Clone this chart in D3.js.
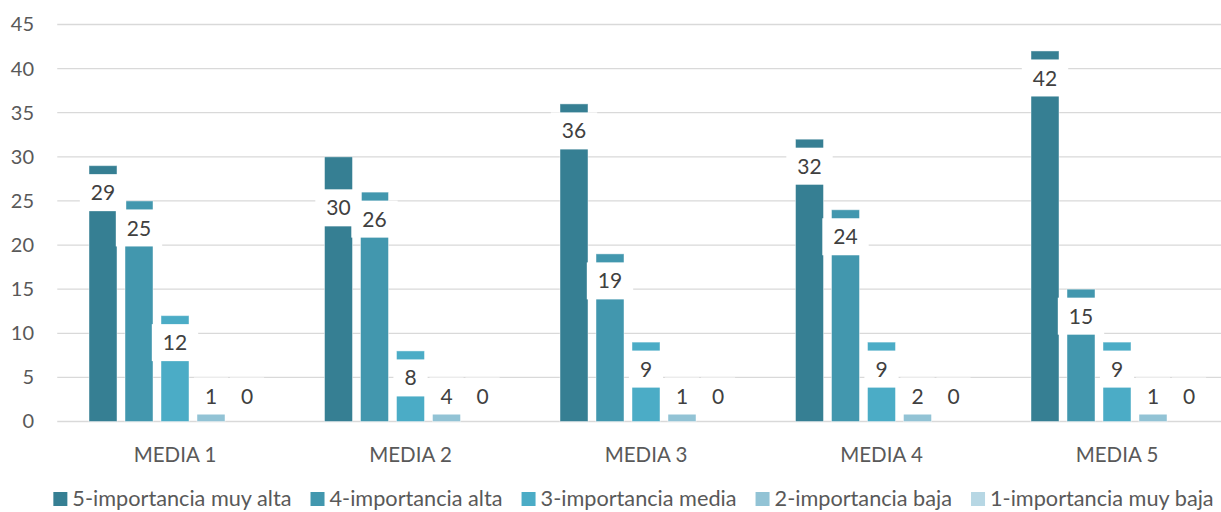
<!DOCTYPE html>
<html>
<head>
<meta charset="utf-8">
<script src="https://cdn.jsdelivr.net/npm/d3@7"></script>
<style>
  html, body { margin: 0; padding: 0; background: #ffffff; }
  svg { display: block; font-family: Lato, "Open Sans", sans-serif; }
</style>
</head>
<body>
<svg id="chart" width="1221" height="512"></svg>
<script>
// Survey results: number of answers per importance level for each measure
const categories = ["MEDIA 1", "MEDIA 2", "MEDIA 3", "MEDIA 4", "MEDIA 5"];
const seriesNames = [
  "5-importancia muy alta",
  "4-importancia alta",
  "3-importancia media",
  "2-importancia baja",
  "1-importancia muy baja"
];
const muyAlta = [29, 30, 36, 32, 42];
const alta    = [25, 26, 19, 24, 15];
const media   = [12, 8, 9, 9, 9];
const baja    = [1, 4, 1, 2, 1];
const muyBaja = [0, 0, 0, 0, 0];
const yTicks  = [0, 5, 10, 15, 20, 25, 30, 35, 40, 45];

const seriesValues = [muyAlta, alta, media, baja, muyBaja];
const colors = ["#367f93", "#4297ae", "#4bacc6", "#92c3d5", "#b7d7e4"];

const svg = d3.select("#chart");
const plot = { left: 57.25, right: 1234.75, top: 24.5, bottom: 421.5 };

const x0 = d3.scaleBand()
  .domain(categories)
  .range([plot.left, plot.right])
  .paddingInner(0.2357)
  .paddingOuter(0.11785);

const x1 = d3.scaleBand()
  .domain(seriesNames)
  .range([0, x0.bandwidth()])
  .paddingInner(0.2222)
  .paddingOuter(0.1111);

const y = d3.scaleLinear().domain([0, 45]).range([plot.bottom, plot.top]);

// Horizontal gridlines
svg.append("g")
  .selectAll("line")
  .data(yTicks)
  .join("line")
  .attr("x1", plot.left)
  .attr("x2", plot.right)
  .attr("y1", d => y(d))
  .attr("y2", d => y(d))
  .attr("stroke", "#d9d9d9")
  .attr("stroke-width", 1.3);

// Value axis labels
const yAxis = d3.axisLeft(y).tickValues(yTicks).tickSize(0).tickPadding(0);
svg.append("g")
  .attr("transform", "translate(34,0)")
  .call(yAxis)
  .call(g => g.select(".domain").remove())
  .call(g => g.selectAll("text")
    .attr("fill", "#595959")
    .attr("font-size", "20px")
    .attr("font-family", "Lato, sans-serif"));

// Category labels
const xAxis = d3.axisBottom(x0).tickSize(0).tickPadding(0);
svg.append("g")
  .attr("transform", "translate(0,447)")
  .call(xAxis)
  .call(g => g.select(".domain").remove())
  .call(g => g.selectAll("text")
    .attr("fill", "#595959")
    .attr("font-size", "20.5px")
    .attr("font-family", "Lato, sans-serif"));

// Flatten into one record per bar
const records = [];
categories.forEach((c, ci) => {
  seriesNames.forEach((s, si) => {
    records.push({ cat: c, series: s, si, value: seriesValues[si][ci] });
  });
});

// Bars
svg.append("g")
  .selectAll("rect")
  .data(records)
  .join("rect")
  .attr("x", d => x0(d.cat) + x1(d.series))
  .attr("y", d => y(d.value))
  .attr("width", x1.bandwidth())
  .attr("height", d => y(0) - y(d.value))
  .attr("fill", d => colors[d.si])
  .attr("stroke", "rgba(255,255,255,0.45)")
  .attr("stroke-width", 1);

// Data labels with white boxes, set just inside the top of each bar.
// One label was dragged lower by hand to keep clear of its neighbour.
const labelH = 37;
const labelDrag = { "MEDIA 2|5-importancia muy alta": 24 };
const labels = svg.append("g")
  .selectAll("g")
  .data(records)
  .join("g")
  .attr("transform", d => {
    const cx = x0(d.cat) + x1(d.series) + x1.bandwidth() / 2;
    const drag = labelDrag[d.cat + "|" + d.series] || 0;
    const cy = Math.min(y(d.value) + 27, y(0) - 25.5) + drag;
    return `translate(${cx},${cy})`;
  });

labels.append("rect").attr("fill", "#ffffff");
labels.append("text")
  .attr("text-anchor", "middle")
  .attr("dy", "0.36em")
  .attr("fill", "#404040")
  .attr("font-size", "21px")
  .text(d => d.value);

labels.each(function() {
  const g = d3.select(this);
  const w = g.select("text").node().getComputedTextLength() + 22;
  g.select("rect")
    .attr("x", -w / 2)
    .attr("y", -labelH / 2)
    .attr("width", w)
    .attr("height", labelH);
});

// Legend, centred under the plot
const legend = svg.append("g").attr("transform", "translate(0,499)");
const items = legend.selectAll("g")
  .data(seriesNames)
  .join("g");
items.append("rect")
  .attr("y", -7)
  .attr("width", 14)
  .attr("height", 14)
  .attr("fill", (d, i) => colors[i]);
items.append("text")
  .attr("x", 19)
  .attr("dy", "0.34em")
  .attr("fill", "#595959")
  .attr("font-size", "21.7px")
  .text(d => d);

let cursor = 0;
const offsets = [];
items.each(function() {
  const tw = d3.select(this).select("text").node().getComputedTextLength();
  offsets.push(cursor);
  cursor += 19 + tw + 19;
});
const total = cursor - 19;
const startX = 633.5 - total / 2;
items.attr("transform", (d, i) => `translate(${startX + offsets[i]},0)`);
</script>
</body>
</html>
